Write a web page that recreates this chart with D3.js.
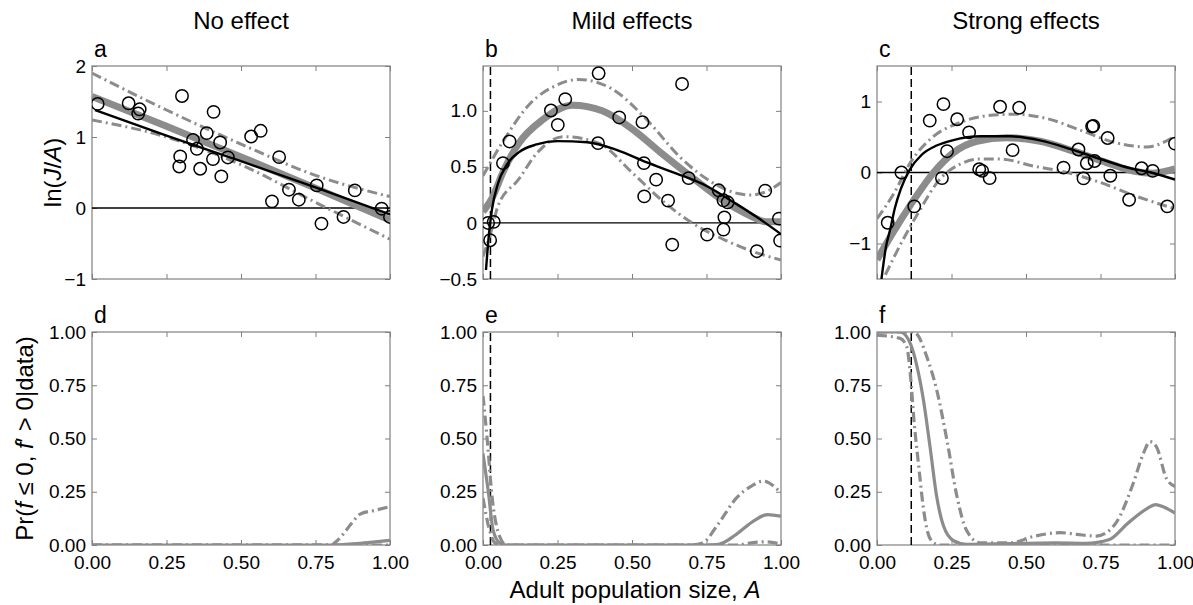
<!DOCTYPE html>
<html>
<head>
<meta charset="utf-8">
<script src="https://cdn.jsdelivr.net/npm/d3@7"></script>
<style>
  body { margin: 0; background: #fff; }
  svg text { font-family: "Liberation Sans", Arial, Helvetica, sans-serif; }
</style>
</head>
<body>
<svg id="chart" width="1193" height="605"></svg>
<script>
// ---- data ----
const columnTitles = ["No effect", "Mild effects", "Strong effects"];
const panelLetters = ["a", "b", "c", "d", "e", "f"];
const xTicks = [0, 0.25, 0.5, 0.75, 1];
const xTickLabels = ["0.00", "0.25", "0.50", "0.75", "1.00"];
const probTicks = [0, 0.25, 0.5, 0.75, 1];
const probTickLabels = ["0.00", "0.25", "0.50", "0.75", "1.00"];

// panel a (no effect)
const aTicks = [-1, 0, 1, 2];
const aTickLabels = ["\u22121", "0", "1", "2"];
const aObsX = [0.019, 0.123, 0.16, 0.155, 0.302, 0.408, 0.385, 0.339, 0.352, 0.296, 0.293, 0.363, 0.406, 0.43, 0.434, 0.456, 0.534, 0.566, 0.628, 0.604, 0.661, 0.694, 0.754, 0.77, 0.844, 0.882, 0.972, 1.0];
const aObsY = [1.466, 1.475, 1.39, 1.33, 1.578, 1.354, 1.054, 0.96, 0.834, 0.726, 0.585, 0.553, 0.689, 0.923, 0.445, 0.712, 1.007, 1.087, 0.717, 0.094, 0.258, 0.117, 0.318, -0.22, -0.126, 0.248, -0.01, -0.126];
const aFitX = [0.01, 0.25, 0.5, 0.75, 1.0];
const aFitY = [1.38, 1.02, 0.66, 0.29, -0.09];
const aMeanX = [0, 0.25, 0.5, 0.75, 1.0];
const aMeanY = [1.57, 1.15, 0.72, 0.28, -0.17];
const aUpX = [0, 0.25, 0.5, 0.75, 1.0];
const aUpY = [1.9, 1.38, 0.9, 0.46, 0.16];
const aLoX = [0, 0.25, 0.5, 0.75, 1.0];
const aLoY = [1.24, 1.0, 0.61, 0.08, -0.44];

// panel b (mild effects)
const bTicks = [-0.5, 0, 0.5, 1.0];
const bTickLabels = ["\u22120.5", "0", "0.5", "1.0"];
const bObsX = [0.017, 0.036, 0.024, 0.067, 0.089, 0.228, 0.251, 0.276, 0.388, 0.386, 0.457, 0.535, 0.54, 0.541, 0.581, 0.621, 0.635, 0.668, 0.69, 0.752, 0.791, 0.807, 0.821, 0.81, 0.807, 0.919, 0.947, 0.993, 0.997];
const bObsY = [0.0, 0.01, -0.154, 0.534, 0.727, 1.003, 0.875, 1.104, 1.335, 0.712, 0.941, 0.899, 0.534, 0.237, 0.386, 0.199, -0.193, 1.24, 0.4, -0.104, 0.291, 0.202, 0.184, 0.05, -0.059, -0.252, 0.288, 0.039, -0.157];
const bFitX = [0.01, 0.02, 0.03, 0.05, 0.08, 0.12, 0.18, 0.25, 0.35, 0.45, 0.55, 0.65, 0.75, 0.85, 0.92, 1.0];
const bFitY = [-0.42, -0.1, 0.12, 0.35, 0.52, 0.63, 0.70, 0.73, 0.72, 0.65, 0.54, 0.44, 0.33, 0.17, 0.05, -0.1];
const bMeanX = [0, 0.03, 0.07, 0.12, 0.2, 0.3, 0.4, 0.5, 0.6, 0.7, 0.8, 0.9, 0.95, 1.0];
const bMeanY = [0.1, 0.22, 0.47, 0.71, 0.92, 1.05, 1.0, 0.84, 0.62, 0.41, 0.21, 0.06, 0.01, 0.01];
const bUpX = [0, 0.07, 0.16, 0.24, 0.32, 0.43, 0.55, 0.66, 0.77, 0.86, 0.9, 0.95, 1.0];
const bUpY = [0.42, 0.74, 1.07, 1.22, 1.28, 1.2, 0.92, 0.59, 0.36, 0.26, 0.25, 0.28, 0.36];
const bLoX = [0, 0.03, 0.05, 0.12, 0.18, 0.27, 0.39, 0.5, 0.61, 0.72, 0.81, 0.9, 1.0];
const bLoY = [-0.3, -0.05, 0.15, 0.39, 0.62, 0.77, 0.71, 0.45, 0.18, -0.03, -0.15, -0.25, -0.33];
const bThreshold = 0.025;

// panel c (strong effects)
const cTicks = [-1, 0, 1];
const cTickLabels = ["\u22121", "0", "1"];
const cObsX = [0.036, 0.082, 0.125, 0.177, 0.223, 0.218, 0.235, 0.269, 0.309, 0.343, 0.353, 0.378, 0.413, 0.455, 0.477, 0.626, 0.676, 0.693, 0.704, 0.73, 0.722, 0.726, 0.774, 0.783, 0.846, 0.888, 0.925, 0.974, 1.0];
const cObsY = [-0.708, 0.0, -0.477, 0.731, 0.963, -0.079, 0.3, 0.75, 0.565, 0.046, 0.023, -0.079, 0.926, 0.315, 0.912, 0.069, 0.324, -0.083, 0.13, 0.162, 0.648, 0.657, 0.486, -0.046, -0.384, 0.06, 0.023, -0.477, 0.407];
const cFitX = [0.015, 0.03, 0.045, 0.06, 0.08, 0.11, 0.15, 0.2, 0.25, 0.35, 0.45, 0.55, 0.65, 0.75, 0.85, 0.92, 1.0];
const cFitY = [-1.5, -1.05, -0.79, -0.5, -0.23, 0.04, 0.25, 0.38, 0.45, 0.51, 0.51, 0.45, 0.33, 0.19, 0.06, 0.0, -0.1];
const cMeanX = [0, 0.056, 0.112, 0.19, 0.257, 0.335, 0.436, 0.548, 0.66, 0.77, 0.86, 0.927, 1.0];
const cMeanY = [-1.23, -0.83, -0.46, 0.0, 0.28, 0.44, 0.49, 0.44, 0.3, 0.14, 0.02, -0.01, 0.05];
const cUpX = [0, 0.056, 0.112, 0.19, 0.27, 0.37, 0.46, 0.57, 0.68, 0.8, 0.905, 1.0];
const cUpY = [-0.65, -0.3, 0.14, 0.51, 0.69, 0.8, 0.82, 0.76, 0.6, 0.42, 0.36, 0.51];
const cLoX = [0.028, 0.078, 0.134, 0.212, 0.28, 0.346, 0.413, 0.525, 0.637, 0.749, 0.86, 1.0];
const cLoY = [-1.44, -1.02, -0.6, -0.09, 0.12, 0.19, 0.19, 0.09, 0.0, -0.14, -0.32, -0.51];
const cThreshold = 0.115;

// panels d-f: Pr(f <= 0, f' > 0 | data)
const dMeanX = [0, 0.8, 0.85, 0.9, 0.95, 1.0];
const dMeanY = [0, 0, 0.003, 0.008, 0.015, 0.022];
const dUpX = [0, 0.8, 0.83, 0.87, 0.9, 0.95, 1.0];
const dUpY = [0, 0, 0.03, 0.1, 0.145, 0.163, 0.18];
const dLoX = [0, 1.0];
const dLoY = [0, 0];

const eMeanX = [0, 0.017, 0.034, 0.056, 0.08, 0.75, 0.79, 0.85, 0.905, 0.955, 1.0];
const eMeanY = [0.43, 0.26, 0.07, 0.01, 0, 0, 0.003, 0.05, 0.11, 0.143, 0.135];
const eUpX = [0, 0.017, 0.028, 0.056, 0.078, 0.7, 0.737, 0.79, 0.85, 0.905, 0.94, 1.0];
const eUpY = [0.7, 0.45, 0.26, 0.04, 0, 0, 0.01, 0.1, 0.22, 0.28, 0.30, 0.245];
const eLoX = [0, 0.02, 0.04, 0.06, 0.85, 0.9, 0.95, 1.0];
const eLoY = [0.22, 0.08, 0.01, 0, 0, 0.01, 0.015, 0.005];

const fMeanX = [0, 0.078, 0.112, 0.134, 0.156, 0.179, 0.2, 0.223, 0.257, 0.3, 0.6, 0.7, 0.78, 0.84, 0.905, 0.935, 0.96, 1.0];
const fMeanY = [1.0, 1.0, 0.945, 0.84, 0.68, 0.45, 0.23, 0.09, 0.02, 0.003, 0.01, 0.008, 0.026, 0.1, 0.17, 0.19, 0.18, 0.15];
const fUpX = [0, 0.123, 0.134, 0.168, 0.2, 0.235, 0.268, 0.3, 0.346, 0.447, 0.525, 0.615, 0.67, 0.737, 0.8, 0.86, 0.894, 0.916, 0.938, 0.972, 1.0];
const fUpY = [1.0, 1.0, 0.99, 0.88, 0.73, 0.49, 0.23, 0.07, 0.01, 0.01, 0.04, 0.058, 0.05, 0.042, 0.10, 0.29, 0.43, 0.485, 0.46, 0.31, 0.275];
const fLoX = [0, 0.078, 0.1, 0.112, 0.125, 0.14, 0.155, 0.17, 0.19, 0.21, 1.0];
const fLoY = [0.985, 0.97, 0.93, 0.8, 0.57, 0.37, 0.18, 0.06, 0.01, 0, 0];

// ---- layout ----
const svg = d3.select("#chart");
const gray = "#8c8c8c";
const boxColor = "#808080";
const colLeft = [92, 483, 877];
const plotW = 298;
const rowTop = [66, 332];
const plotH = 213;

function makePanel(col, row, yDomain, yTicks, yLabels, letter) {
  const x0 = colLeft[col], y0 = rowTop[row];
  const x = d3.scaleLinear().domain([0, 1]).range([x0, x0 + plotW]);
  const y = d3.scaleLinear().domain(yDomain).range([y0 + plotH, y0]);
  const clipId = "clip-" + letter;
  svg.append("clipPath").attr("id", clipId)
    .append("rect").attr("x", x0).attr("y", y0).attr("width", plotW).attr("height", plotH);

  const g = svg.append("g");
  const plot = svg.append("g").attr("clip-path", `url(#${clipId})`);

  // axes, ticks pointing inwards on all four sides
  g.append("g").attr("transform", `translate(${x0},0)`)
    .call(d3.axisLeft(y).tickValues(yTicks).tickFormat((d, i) => yLabels[i])
      .tickSizeInner(-5).tickSizeOuter(0).tickPadding(6));
  g.append("g").attr("transform", `translate(${x0 + plotW},0)`)
    .call(d3.axisRight(y).tickValues(yTicks).tickFormat("").tickSizeInner(-5).tickSizeOuter(0));
  g.append("g").attr("transform", `translate(0,${y0 + plotH})`)
    .call(d3.axisBottom(x).tickValues(xTicks)
      .tickFormat((d, i) => row === 1 ? xTickLabels[i] : "")
      .tickSizeInner(-5).tickSizeOuter(0).tickPadding(11));
  g.append("g").attr("transform", `translate(0,${y0})`)
    .call(d3.axisTop(x).tickValues(xTicks).tickFormat("").tickSizeInner(-5).tickSizeOuter(0));

  g.selectAll(".domain").remove();
  g.selectAll(".tick line").attr("stroke", boxColor);
  g.selectAll(".tick text").attr("fill", "#000").style("font-size", "19px")
    .style("font-family", "'Liberation Sans', Arial, sans-serif");

  g.append("rect").attr("x", x0).attr("y", y0).attr("width", plotW).attr("height", plotH)
    .attr("fill", "none").attr("stroke", boxColor).attr("stroke-width", 1.2);

  svg.append("text").attr("x", x0 + 2).attr("y", y0 - 9)
    .style("font-size", "23px").text(letter);

  return { x, y, plot, g };
}

function drawLine(p, xs, ys, color, width, dash) {
  const line = d3.line().x(d => p.x(d[0])).y(d => p.y(d[1])).curve(d3.curveMonotoneX);
  p.plot.append("path").datum(d3.zip(xs, ys))
    .attr("fill", "none").attr("stroke", color).attr("stroke-width", width)
    .attr("stroke-dasharray", dash || null)
    .attr("stroke-linejoin", "round")
    .attr("d", line);
}

function drawZero(p) {
  p.plot.append("line")
    .attr("x1", p.x(0)).attr("x2", p.x(1)).attr("y1", p.y(0)).attr("y2", p.y(0))
    .attr("stroke", "#000").attr("stroke-width", 1.3);
}

function drawThreshold(p, t) {
  p.plot.append("line")
    .attr("x1", p.x(t)).attr("x2", p.x(t))
    .attr("y1", p.y.range()[0]).attr("y2", p.y.range()[1])
    .attr("stroke", "#000").attr("stroke-width", 1.5).attr("stroke-dasharray", "8,4");
}

function drawPoints(p, xs, ys) {
  p.plot.selectAll(null).data(d3.zip(xs, ys)).enter().append("circle")
    .attr("cx", d => p.x(d[0])).attr("cy", d => p.y(d[1])).attr("r", 6.2)
    .attr("fill", "none").attr("stroke", "#000").attr("stroke-width", 1.5);
}

const ciDash = "10,4,2,4";

function topPanel(col, dom, ticks, labels, letter, obsX, obsY, fitX, fitY, meanX, meanY, upX, upY, loX, loY, thr) {
  const p = makePanel(col, 0, dom, ticks, labels, letter);
  drawZero(p);
  if (thr != null) drawThreshold(p, thr);
  drawLine(p, upX, upY, gray, 3, ciDash);
  drawLine(p, loX, loY, gray, 3, ciDash);
  drawLine(p, meanX, meanY, gray, 7);
  drawLine(p, fitX, fitY, "#000", 2.4);
  drawPoints(p, obsX, obsY);
}

function bottomPanel(col, letter, meanX, meanY, upX, upY, loX, loY, thr) {
  const p = makePanel(col, 1, [0, 1], probTicks, probTickLabels, letter);
  if (thr != null) drawThreshold(p, thr);
  drawLine(p, loX, loY, gray, 3.2, ciDash);
  drawLine(p, upX, upY, gray, 3.2, ciDash);
  drawLine(p, meanX, meanY, gray, 3.2);
}

topPanel(0, [-1, 2], aTicks, aTickLabels, panelLetters[0], aObsX, aObsY, aFitX, aFitY, aMeanX, aMeanY, aUpX, aUpY, aLoX, aLoY, null);
topPanel(1, [-0.5, 1.4], bTicks, bTickLabels, panelLetters[1], bObsX, bObsY, bFitX, bFitY, bMeanX, bMeanY, bUpX, bUpY, bLoX, bLoY, bThreshold);
topPanel(2, [-1.5, 1.5], cTicks, cTickLabels, panelLetters[2], cObsX, cObsY, cFitX, cFitY, cMeanX, cMeanY, cUpX, cUpY, cLoX, cLoY, cThreshold);

bottomPanel(0, panelLetters[3], dMeanX, dMeanY, dUpX, dUpY, dLoX, dLoY, null);
bottomPanel(1, panelLetters[4], eMeanX, eMeanY, eUpX, eUpY, eLoX, eLoY, bThreshold);
bottomPanel(2, panelLetters[5], fMeanX, fMeanY, fUpX, fUpY, fLoX, fLoY, cThreshold);

// column titles
columnTitles.forEach((t, i) => {
  svg.append("text").attr("x", colLeft[i] + plotW / 2).attr("y", 29)
    .attr("text-anchor", "middle").style("font-size", "24px").text(t);
});

// axis labels
const yl1 = svg.append("text").attr("transform", `translate(61,${rowTop[0] + plotH / 2}) rotate(-90)`)
  .attr("text-anchor", "middle").style("font-size", "24px");
yl1.append("tspan").text("ln(");
yl1.append("tspan").style("font-style", "italic").text("J");
yl1.append("tspan").text("/");
yl1.append("tspan").style("font-style", "italic").text("A");
yl1.append("tspan").text(")");

const yl2 = svg.append("text").attr("transform", `translate(33,${rowTop[1] + plotH / 2}) rotate(-90)`)
  .attr("text-anchor", "middle").style("font-size", "24px");
yl2.append("tspan").text("Pr(");
yl2.append("tspan").style("font-style", "italic").text("f");
yl2.append("tspan").text(" \u2264 0, ");
yl2.append("tspan").style("font-style", "italic").text("f");
yl2.append("tspan").text("\u2032 > 0|data)");

const xl = svg.append("text").attr("x", 635).attr("y", 598)
  .attr("text-anchor", "middle").style("font-size", "24px");
xl.append("tspan").text("Adult population size, ");
xl.append("tspan").style("font-style", "italic").text("A");
</script>
</body>
</html>
